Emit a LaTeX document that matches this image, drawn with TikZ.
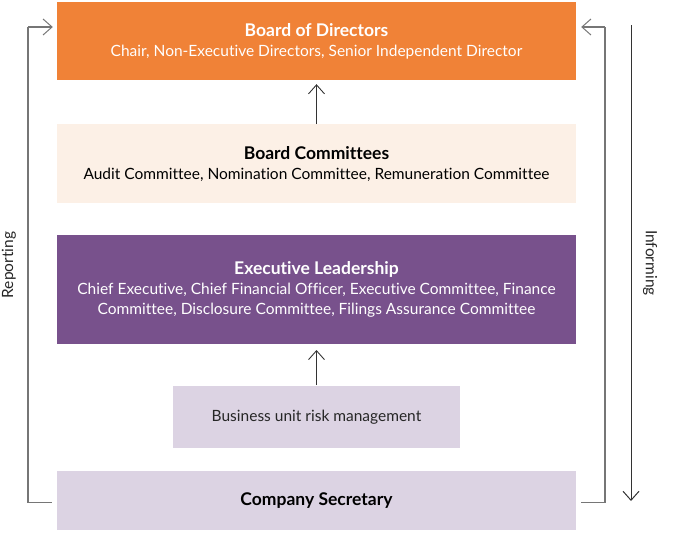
\documentclass[tikz,border=0pt]{standalone}
\usepackage{fontspec}
\setmainfont[Ligatures=NoCommon]{Lato}
\usetikzlibrary{positioning}
\usetikzlibrary{calc}
\usetikzlibrary{arrows.meta}
\definecolor{boardorange}{HTML}{F08237}
\definecolor{committeecream}{HTML}{FCF0E6}
\definecolor{execpurple}{HTML}{78518C}
\definecolor{unitlilac}{HTML}{DCD3E3}
\definecolor{linegrey}{HTML}{767676}
\newcommand{\boxtitle}[1]{{\fontsize{17.5}{20}\selectfont\bfseries #1}}

\begin{document}
\begin{tikzpicture}[
        x=1pt, y=1pt,
        node distance= 44pt and 5pt,
        box/.style={rectangle, minimum width=519pt, minimum height=78pt, inner sep=0pt, align=center, font=\fontsize{15.5}{20}\selectfont},
        arrow/.style={line width=0.9pt, ->, >={Straight Barb[length=9pt, width=16pt]}, color=black!80},
        report/.style={line width=1.6pt, linegrey},
    ]
        \useasboundingbox (0,0) rectangle (677,-533);

        \node[box, fill=boardorange, text=white] (board) at (316.5,-41) {\boxtitle{Board of Directors}\\Chair, Non-Executive Directors, Senior Independent Director};
        \node[box, fill=committeecream, text=black, minimum height=79pt, below = 44pt of board] (committees) {\boxtitle{Board Committees}\\Audit Committee, Nomination Committee, Remuneration Committee};
        \node[box, fill=execpurple, text=white, minimum height=109pt, below = 31pt of committees] (exec) {\boxtitle{Executive Leadership}\\Chief Executive, Chief Financial Officer, Executive Committee, Finance\\Committee, Disclosure Committee, Filings Assurance Committee};
        \node[box, fill=unitlilac, text=black!85, minimum width=287pt, minimum height=62pt, below = 42pt of exec] (unit) {Business unit risk management};
        \node[box, fill=unitlilac, text=black, minimum height=59pt, below = 22pt of unit] (cosec) {\boxtitle{Company Secretary}};

        \coordinate (reptop) at (28,-27);
        \coordinate (rettop) at (605,-27);
        \coordinate (inftop) at (631,-25);
        \coordinate (infbot) at (631,-501);

        \draw[arrow, shorten >=4pt] (committees.north) -- (board.south);
        \draw[arrow, shorten <=1pt, shorten >=6pt] (unit.north) -- (exec.south);

        \draw[report, shorten <=5pt] ([yshift=-2.5pt]cosec.west) -| (reptop);
        \draw[report, ->, >={Straight Barb[length=9pt, width=16pt, line width=1pt]}, shorten >=4pt] (reptop) -- (board.west |- reptop);
        \draw[report, shorten <=5pt] ([yshift=-2.5pt]cosec.east) -| (rettop);
        \draw[report, ->, >={Straight Barb[length=9pt, width=16pt, line width=1pt]}, shorten >=5pt] (rettop) -- (board.east |- rettop);
        \draw[arrow, line width=1pt] (inftop) -- (infbot);

        \node[rotate=90, font=\fontsize{15.5}{20}\selectfont, text=black!85] (reporting) at (9,-265) {Reporting};
        \node[rotate=-90, font=\fontsize{15.5}{20}\selectfont, text=black!85] (informing) at (650,-263) {Informing};
    \end{tikzpicture}
\end{document}
